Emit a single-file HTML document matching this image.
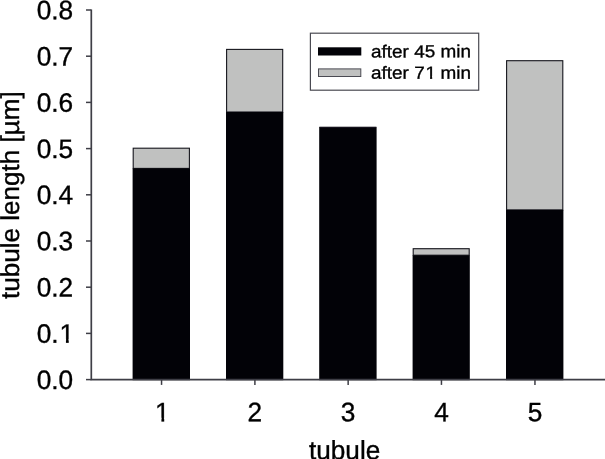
<!DOCTYPE html>
<html><head><meta charset="utf-8"><title>tubule length</title>
<style>html,body{margin:0;padding:0;background:#fff;overflow:hidden}</style></head>
<body>
<svg width="605" height="459" viewBox="0 0 605 459" style="display:block;filter:blur(0.5px)">
<rect x="-5" y="-5" width="615" height="469" fill="#fff"/>
<g font-family="'Liberation Sans', sans-serif" fill="#000">
<rect x="133.2" y="148.2" width="56.2" height="20.2" fill="#c0c1c0" stroke="#15151c" stroke-width="1.1"/>
<rect x="132.6" y="168.4" width="57.4" height="211.8" fill="#020207"/>
<rect x="226.6" y="49.4" width="56.1" height="62.6" fill="#c0c1c0" stroke="#15151c" stroke-width="1.1"/>
<rect x="226.0" y="112.0" width="57.3" height="268.2" fill="#020207"/>
<rect x="319.2" y="126.8" width="57.4" height="253.4" fill="#020207"/>
<path d="M319.8 127.4H376" stroke="#1a1622" stroke-width="0.9"/>
<rect x="413.2" y="248.7" width="56.0" height="6.5" fill="#c0c1c0" stroke="#15151c" stroke-width="1.1"/>
<rect x="412.6" y="255.2" width="57.2" height="125.0" fill="#020207"/>
<rect x="506.6" y="60.7" width="56.2" height="149.2" fill="#c0c1c0" stroke="#15151c" stroke-width="1.1"/>
<rect x="506.0" y="209.9" width="57.4" height="170.3" fill="#020207"/>
<path d="M91.3 9.6V379.6H610" fill="none" stroke="#3e3e46" stroke-width="1.7"/>
<path d="M86 379.6H91.3" stroke="#3e3e46" stroke-width="1.5"/>
<g transform="translate(73.2 388.9) rotate(-0.03) scale(1 1.015)">
<text font-size="26.3" text-anchor="end" stroke="#000" stroke-width="0.35">0.0</text>
</g>
<path d="M86 333.4H91.3" stroke="#3e3e46" stroke-width="1.5"/>
<g transform="translate(74.2 342.7) rotate(-0.03) scale(1 1.015)">
<text dx="0 0 1.0" font-size="26.3" text-anchor="end" stroke="#000" stroke-width="0.35">0.1</text>
<rect x="-13.82" y="-3.56" width="5.57" height="5.36" fill="#fff"/>
<rect x="-5.45" y="-3.56" width="5.36" height="5.36" fill="#fff"/>
</g>
<path d="M86 287.2H91.3" stroke="#3e3e46" stroke-width="1.5"/>
<g transform="translate(73.2 296.5) rotate(-0.03) scale(1 1.015)">
<text font-size="26.3" text-anchor="end" stroke="#000" stroke-width="0.35">0.2</text>
</g>
<path d="M86 241.0H91.3" stroke="#3e3e46" stroke-width="1.5"/>
<g transform="translate(73.2 250.3) rotate(-0.03) scale(1 1.015)">
<text font-size="26.3" text-anchor="end" stroke="#000" stroke-width="0.35">0.3</text>
</g>
<path d="M86 194.8H91.3" stroke="#3e3e46" stroke-width="1.5"/>
<g transform="translate(73.2 204.1) rotate(-0.03) scale(1 1.015)">
<text font-size="26.3" text-anchor="end" stroke="#000" stroke-width="0.35">0.4</text>
</g>
<path d="M86 148.6H91.3" stroke="#3e3e46" stroke-width="1.5"/>
<g transform="translate(73.2 157.9) rotate(-0.03) scale(1 1.015)">
<text font-size="26.3" text-anchor="end" stroke="#000" stroke-width="0.35">0.5</text>
</g>
<path d="M86 102.4H91.3" stroke="#3e3e46" stroke-width="1.5"/>
<g transform="translate(73.2 111.7) rotate(-0.03) scale(1 1.015)">
<text font-size="26.3" text-anchor="end" stroke="#000" stroke-width="0.35">0.6</text>
</g>
<path d="M86 56.2H91.3" stroke="#3e3e46" stroke-width="1.5"/>
<g transform="translate(73.2 65.5) rotate(-0.03) scale(1 1.015)">
<text font-size="26.3" text-anchor="end" stroke="#000" stroke-width="0.35">0.7</text>
</g>
<path d="M86 10.0H91.3" stroke="#3e3e46" stroke-width="1.5"/>
<g transform="translate(73.2 19.2) rotate(-0.03) scale(1 1.015)">
<text font-size="26.3" text-anchor="end" stroke="#000" stroke-width="0.35">0.8</text>
</g>
<path d="M161.55 379.6V384.90000000000003" stroke="#3e3e46" stroke-width="1.5"/>
<g transform="translate(162.35 421.35) rotate(-0.03) scale(1 1.015)">
<text font-size="26.3" text-anchor="middle" stroke="#000" stroke-width="0.35">1</text>
<rect x="-6.51" y="-3.56" width="5.57" height="5.36" fill="#fff"/>
<rect x="1.87" y="-3.56" width="5.36" height="5.36" fill="#fff"/>
</g>
<path d="M254.9 379.6V384.90000000000003" stroke="#3e3e46" stroke-width="1.5"/>
<g transform="translate(254.9 421.35) rotate(-0.03) scale(1 1.015)">
<text font-size="26.3" text-anchor="middle" stroke="#000" stroke-width="0.35">2</text>
</g>
<path d="M348.15 379.6V384.90000000000003" stroke="#3e3e46" stroke-width="1.5"/>
<g transform="translate(348.15 421.35) rotate(-0.03) scale(1 1.015)">
<text font-size="26.3" text-anchor="middle" stroke="#000" stroke-width="0.35">3</text>
</g>
<path d="M441.45 379.6V384.90000000000003" stroke="#3e3e46" stroke-width="1.5"/>
<g transform="translate(441.45 421.35) rotate(-0.03) scale(1 1.015)">
<text font-size="26.3" text-anchor="middle" stroke="#000" stroke-width="0.35">4</text>
</g>
<path d="M534.95 379.6V384.90000000000003" stroke="#3e3e46" stroke-width="1.5"/>
<g transform="translate(534.95 421.35) rotate(-0.03) scale(1 1.015)">
<text font-size="26.3" text-anchor="middle" stroke="#000" stroke-width="0.35">5</text>
</g>
<g transform="translate(344.6 459.2) rotate(-0.03) scale(1 1.01)">
<text font-size="26.2" text-anchor="middle" stroke="#000" stroke-width="0.35">tubule</text>
</g>
<g transform="translate(19.0 195.1) rotate(-90.03) scale(1 0.995)">
<text font-size="26.1" text-anchor="middle" stroke="#000" stroke-width="0.35">tubule length [µm]</text>
</g>
<rect x="310.4" y="33.2" width="168.3" height="57" fill="#fff" stroke="#4a4a52" stroke-width="1.2"/>
<rect x="318" y="47.3" width="43.3" height="8.2" fill="#020207"/>
<rect x="318.5" y="68.9" width="42.3" height="7.6" fill="#c0c1c0" stroke="#4a4a52" stroke-width="1"/>
<g transform="translate(371 57.4) rotate(-0.03) scale(1 0.93)">
<text font-size="18.95" text-anchor="start" stroke="#000" stroke-width="0.35">after 45 min</text>
</g>
<g transform="translate(371 78.8) rotate(-0.03) scale(1 0.93)">
<text dx="0 0 0 0 0 0 0 0.78 -0.78" font-size="18.95" text-anchor="start" stroke="#000" stroke-width="0.35">after 71 min</text>
<rect x="54.76" y="-3.02" width="4.28" height="4.82" fill="#fff"/>
<rect x="61.20" y="-3.02" width="4.13" height="4.82" fill="#fff"/>
</g>
</g></svg>
</body></html>
